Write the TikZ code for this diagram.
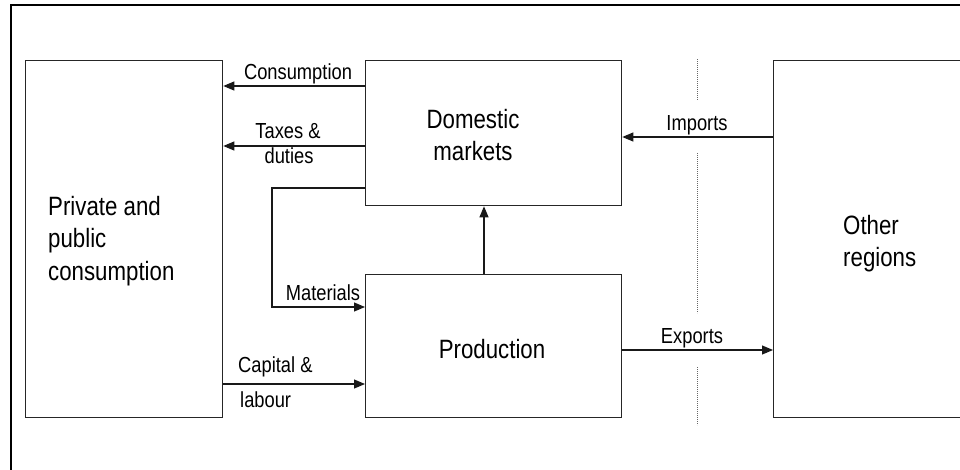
\documentclass[tikz,border=0pt]{standalone}
\usepackage{fontspec}
\setmainfont{Liberation Sans}[FakeStretch=0.84]
\usetikzlibrary{arrows.meta}
\begin{document}
\begin{tikzpicture}[x=1pt,y=-1pt,
  box/.style={draw=black!85,line width=1.3pt,rectangle,inner sep=0pt,anchor=north west},
  flow/.style={draw=black!90,line width=1.1pt,-{Triangle[length=11pt,width=9pt]}},
  boxtext/.style={font=\fontsize{26.5}{32}\selectfont,inner sep=0pt},
  lab/.style={font=\fontsize{21.8}{26}\selectfont,inner sep=0pt},
  boundary/.style={draw=black!60,line width=0.7pt,dash pattern=on 0.8pt off 1.2pt}]
\useasboundingbox (0,0) rectangle (960,469);

% outer frame
\draw[line width=2.5pt] (11,480) -- (11,5) -- (980,5);

% blocks
\node[box,minimum width=197pt,minimum height=357pt] (pp) at (25,60) {};
\node[box,minimum width=256pt,minimum height=145pt] (dm) at (365,60) {};
\node[box,minimum width=256pt,minimum height=143pt] (pr) at (365,274) {};
\node[box,minimum width=220pt,minimum height=357pt] (or) at (773,60) {};

% block texts
\node[boxtext,anchor=base west] (pp1) at (48,215) {Private and};
\node[boxtext,anchor=base west] (pp2) at (48,247) {public};
\node[boxtext,anchor=base west] (pp3) at (48,280) {consumption};
\node[boxtext,anchor=base] (dm1) at (473,128) {Domestic};
\node[boxtext,anchor=base] (dm2) at (473,160) {markets};
\node[boxtext,anchor=base] (pr1) at (492,358) {Production};
\node[boxtext,anchor=base west] (or1) at (843,234) {Other};
\node[boxtext,anchor=base west] (or2) at (843,266) {regions};

% border between regions
\draw[boundary] (697,59) -- (697,100);
\draw[boundary] (697,153) -- (697,313);
\draw[boundary] (697,367) -- (697,425);

% flow levels
\coordinate (yCons) at (0,86);
\coordinate (yTax) at (0,146);
\coordinate (yMat) at (0,188);
\coordinate (mbend) at (272,307);
\coordinate (yCap) at (0,384);
\coordinate (yImp) at (0,137);
\coordinate (yExp) at (0,350);
\coordinate (xUp) at (484,0);

% flows
\draw[flow] (dm.west |- yCons) -- (pp.east |- yCons);
\draw[flow] (dm.west |- yTax) -- (pp.east |- yTax);
\draw[flow] (dm.west |- yMat) -| (mbend) -- (pr.west |- mbend);
\draw[flow] (pp.east |- yCap) -- (pr.west |- yCap);
\draw[flow] (or.west |- yImp) -- (dm.east |- yImp);
\draw[flow] (pr.east |- yExp) -- (or.west |- yExp);
\draw[flow] (pr.north -| xUp) -- (dm.south -| xUp);

% flow labels
\node[lab,anchor=base] (lcons) at (298,79) {Consumption};
\node[lab,anchor=base] (ltax1) at (288,138) {Taxes \&};
\node[lab,anchor=base] (ltax2) at (289,163) {duties};
\node[lab,anchor=base] (lmat) at (323,300) {Materials};
\node[lab,anchor=base west] (lcap1) at (238,372) {Capital \&};
\node[lab,anchor=base west] (lcap2) at (240,407) {labour};
\node[lab,anchor=base] (limp) at (697,130) {Imports};
\node[lab,anchor=base] (lexp) at (692,343) {Exports};
\end{tikzpicture}
\end{document}
